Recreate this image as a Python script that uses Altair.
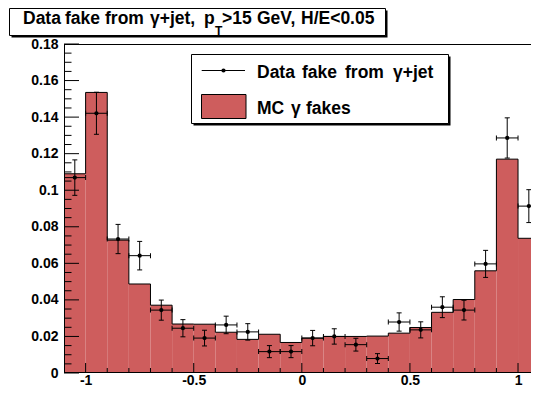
import altair as alt
import pandas as pd

# ---------------- data ----------------
bin_lo = [-1.1, -1.0, -0.9, -0.8, -0.7, -0.6, -0.5, -0.4, -0.3, -0.2, -0.1,
          0.0, 0.1, 0.2, 0.3, 0.4, 0.5, 0.6, 0.7, 0.8, 0.9, 1.0]
bin_hi = [-1.0, -0.9, -0.8, -0.7, -0.6, -0.5, -0.4, -0.3, -0.2, -0.1, 0.0,
          0.1, 0.2, 0.3, 0.4, 0.5, 0.6, 0.7, 0.8, 0.9, 1.0, 1.1]
bin_center = [-1.05, -0.95, -0.85, -0.75, -0.65, -0.55, -0.45, -0.35, -0.25, -0.15, -0.05,
              0.05, 0.15, 0.25, 0.35, 0.45, 0.55, 0.65, 0.75, 0.85, 0.95, 1.05]
mc_fakes = [0.1090, 0.1535, 0.0727, 0.0487, 0.0371, 0.0268, 0.0267, 0.0223, 0.0184, 0.0212, 0.0167,
            0.0191, 0.0200, 0.0200, 0.0202, 0.0218, 0.0249, 0.0332, 0.0402, 0.0559, 0.1170, 0.0737]
data_fake = [0.1069, 0.1421, 0.0733, 0.0642, 0.0344, 0.0245, 0.0191, 0.0263, 0.0225, 0.0117, 0.0117,
             0.0191, 0.0200, 0.0155, 0.0079, 0.0279, 0.0236, 0.0360, 0.0344, 0.0597, 0.1286, 0.0913]
data_err = [0.0097, 0.0115, 0.0080, 0.0078, 0.0055, 0.0047, 0.0043, 0.0048, 0.0045, 0.0033, 0.0033,
            0.0042, 0.0042, 0.0035, 0.0027, 0.0050, 0.0044, 0.0057, 0.0054, 0.0074, 0.0110, 0.0090]

x_major = [-1, -0.5, 0, 0.5, 1]
x_minor = [-0.9, -0.8, -0.7, -0.6, -0.4, -0.3, -0.2, -0.1, 0.1, 0.2, 0.3, 0.4, 0.6, 0.7, 0.8, 0.9]
y_major = [0, 0.02, 0.04, 0.06, 0.08, 0.1, 0.12, 0.14, 0.16, 0.18]
y_minor = [0.005, 0.01, 0.015, 0.025, 0.03, 0.035, 0.045, 0.05, 0.055, 0.065, 0.07, 0.075,
           0.085, 0.09, 0.095, 0.105, 0.11, 0.115, 0.125, 0.13, 0.135, 0.145, 0.15, 0.155,
           0.165, 0.17, 0.175]

title_words = ["Data", "fake", "from", "\u03b3+jet,", "p", ">15", "GeV,", "H/E<0.05"]
sub_word = "T"
legend_1 = ["Data", "fake", "from", "\u03b3+jet"]
legend_2 = ["MC", "\u03b3", "fakes"]

# ---------------- layout ----------------
W, H = 467, 329
OX, OY = 64, 44          # page position of plot origin
RED = "#ce5d5d"
FONT = "Liberation Sans"
TS = 17.5                # title / legend font size

XS = alt.Scale(domain=[-1.1, 1.06], nice=False, zero=False)
YS = alt.Scale(domain=[0, 0.18], nice=False, zero=True)

XAX = alt.Axis(values=x_major, labelExpr="'' + datum.value", ticks=False, domain=False,
               grid=False, labelFont=FONT, labelFontWeight="bold", labelFontSize=14,
               labelColor="black", labelPadding=0, labelFlush=False, title=None)
YAX = alt.Axis(values=y_major, labelExpr="format(datum.value, '.2~f')", ticks=False,
               domain=False, grid=False, labelFont=FONT, labelFontWeight="bold",
               labelFontSize=14, labelColor="black", labelPadding=6, labelFlush=False, title=None)

def X(f):
    return alt.X(f + ":Q", scale=XS, axis=XAX, title=None)

def Y(f):
    return alt.Y(f + ":Q", scale=YS, axis=YAX, title=None)

hist = pd.DataFrame({"lo": bin_lo, "hi": bin_hi, "v": mc_fakes})
step = pd.DataFrame({"lo": bin_lo + [bin_hi[-1]], "v": mc_fakes + [mc_fakes[-1]]})
pts = pd.DataFrame({"lo": bin_lo, "hi": bin_hi, "c": bin_center, "v": data_fake, "e": data_err})
pts["vlo"] = pts["v"] - pts["e"]
pts["vhi"] = pts["v"] + pts["e"]

one = pd.DataFrame({"a": [0]})

bars = alt.Chart(hist).mark_rect(color=RED, clip=True).encode(
    x=X("lo"), x2="hi:Q", y=Y("v"), y2=alt.value(H))

outline = alt.Chart(step).mark_line(interpolate="step-after", color="black", strokeWidth=1,
                                    clip=True).encode(x=X("lo"), y=Y("v"))

hbar = alt.Chart(pts).mark_rule(color="black", strokeWidth=1, clip=True).encode(
    x=X("lo"), x2="hi:Q", y=Y("v"))
vbar = alt.Chart(pts).mark_rule(color="black", strokeWidth=1, clip=True).encode(
    x=X("c"), y=Y("vlo"), y2="vhi:Q")

def cap(xf, yf, orient):
    return alt.Chart(pts).mark_tick(orient=orient, size=5, thickness=1, color="black",
                                    opacity=1, clip=True).encode(x=X(xf), y=Y(yf))

caps = [cap("c", "vlo", "horizontal"), cap("c", "vhi", "horizontal"),
        cap("lo", "v", "vertical"), cap("hi", "v", "vertical")]

points = alt.Chart(pts).mark_point(filled=True, size=18, color="black", opacity=1,
                                   clip=True).encode(x=X("c"), y=Y("v"))

# inward ticks
def xticks(vals, length):
    return alt.Chart(pd.DataFrame({"lo": vals})).mark_rule(color="black", strokeWidth=1).encode(
        x=X("lo"), y=alt.value(H), y2=alt.value(H - length))

def yticks(vals, length):
    return alt.Chart(pd.DataFrame({"v": vals})).mark_rule(color="black", strokeWidth=1).encode(
        y=Y("v"), x=alt.value(0), x2=alt.value(length))

def rule(x1, y1, x2=None, y2=None, width=1, color="black"):
    enc = {"x": alt.value(x1), "y": alt.value(y1)}
    if x2 is not None:
        enc["x2"] = alt.value(x2)
    if y2 is not None:
        enc["y2"] = alt.value(y2)
    return alt.Chart(one).mark_rule(color=color, strokeWidth=width).encode(**enc)

frame = [rule(0, 0.5, x2=W), rule(0.5, 0, y2=H), rule(0, H - 0.5, x2=W)]

def box(px1, py1, px2, py2, fill="white", stroke="black", shadow=2):
    layers = []
    if shadow:
        layers.append(alt.Chart(one).mark_rect(color="black").encode(
            x=alt.value(px1 - OX + shadow), x2=alt.value(px2 - OX + shadow),
            y=alt.value(py1 - OY + shadow), y2=alt.value(py2 - OY + shadow)))
    layers.append(alt.Chart(one).mark_rect(fill=fill, stroke=stroke, strokeWidth=1).encode(
        x=alt.value(px1 - OX), x2=alt.value(px2 - OX),
        y=alt.value(py1 - OY), y2=alt.value(py2 - OY)))
    return layers

def txt(s, px, py, size=TS):
    return alt.Chart(one).mark_text(text=s, font=FONT, fontWeight="bold", fontSize=size,
                                    align="left", baseline="alphabetic", color="black").encode(
        x=alt.value(px - OX), y=alt.value(py - OY))

# title
title_x = [23, 65, 105, 150, 204, 222, 257, 301]
title_layers = box(9.5, 8.5, 385.5, 35.5)
for w, px in zip(title_words, title_x):
    title_layers.append(txt(w, px, 24))
title_layers.append(txt(sub_word, 215, 35, size=12))

# legend
leg_layers = box(191.5, 54.5, 448.5, 123.5)
leg_layers.append(rule(201.7 - OX, 70.5 - OY, x2=245 - OX))
leg_layers.append(alt.Chart(one).mark_point(filled=True, size=18, color="black", opacity=1).encode(
    x=alt.value(223.5 - OX), y=alt.value(70.5 - OY)))
leg_layers.append(alt.Chart(one).mark_rect(fill=RED, stroke="black", strokeWidth=1).encode(
    x=alt.value(201.5 - OX), x2=alt.value(246 - OX), y=alt.value(94.5 - OY), y2=alt.value(118.5 - OY)))
for w, px in zip(legend_1, [257, 302, 345, 393]):
    leg_layers.append(txt(w, px, 77.5))
for w, px in zip(legend_2, [257, 291, 306]):
    leg_layers.append(txt(w, px, 113.5))

chart = alt.layer(
    bars, outline, hbar, vbar, *caps, points,
    xticks(x_major, 10), xticks(x_minor, 5), yticks(y_major, 15), yticks(y_minor, 7.5),
    *frame, *title_layers, *leg_layers,
).properties(
    width=W, height=H,
    autosize=alt.AutoSizeParams(type="none"),
    padding={"left": OX - 8, "top": OY - 8, "right": 0, "bottom": 388 - OY - H},
    background="white",
).configure_view(stroke=None)

chart.save("out.html", embed_options={"renderer": "svg", "actions": False})
